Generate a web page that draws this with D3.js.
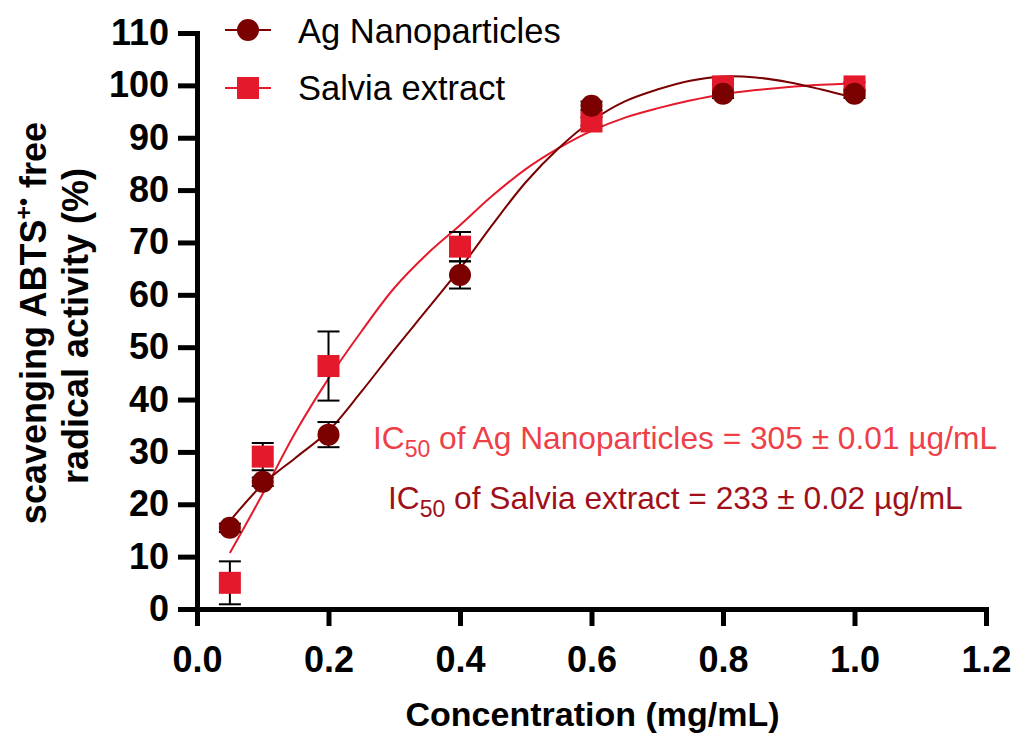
<!DOCTYPE html>
<html>
<head>
<meta charset="utf-8">
<script src="https://cdn.jsdelivr.net/npm/d3@7"></script>
<style>
  html, body { margin: 0; padding: 0; background: #fff; }
  svg { display: block; }
  text { font-family: "Liberation Sans", Arial, sans-serif; }
</style>
</head>
<body>
<svg id="chart" width="1016" height="733"></svg>
<script>
// ---- data ----
const concentrations = [0.05, 0.1, 0.2, 0.4, 0.6, 0.8, 1.0];
const agValues = [15.5, 24.3, 33.3, 63.8, 96.1, 98.4, 98.4];
const agErrors = [0.8, 0.8, 2.4, 2.6, 0.8, 0.8, 0.8];
const salviaValues = [5.0, 29.1, 46.4, 69.2, 93.1, 99.8, 99.8];
const salviaErrors = [4.1, 2.6, 6.6, 2.8, 0.8, 0.8, 0.8];

// fitted curves
const agFitX = [0.05, 0.1, 0.15, 0.2, 0.25, 0.3, 0.35, 0.4, 0.45, 0.5, 0.55, 0.6, 0.65, 0.7, 0.75, 0.8, 0.85, 0.9, 0.95, 1.0];
const agFitY = [16.8, 23.8, 28.9, 34.0, 41.5, 49.5, 57.2, 65.0, 73.5, 81.5, 88.0, 93.2, 96.9, 99.2, 100.9, 101.7, 101.5, 100.6, 99.2, 97.6];
const salviaFitX = [0.05, 0.1, 0.15, 0.2, 0.25, 0.3, 0.35, 0.4, 0.45, 0.5, 0.55, 0.6, 0.65, 0.7, 0.75, 0.8, 0.85, 0.9, 0.95, 1.0];
const salviaFitY = [10.7, 22.0, 33.8, 44.0, 53.0, 61.3, 67.8, 73.3, 79.0, 84.0, 88.0, 91.3, 93.8, 95.6, 97.1, 98.3, 99.1, 99.7, 100.1, 100.4];

const xTickValues = [0, 0.2, 0.4, 0.6, 0.8, 1.0, 1.2];
const yTickValues = [0, 10, 20, 30, 40, 50, 60, 70, 80, 90, 100, 110];

const seriesNames = ["Ag Nanoparticles", "Salvia extract"];
const xTitle = "Concentration (mg/mL)";
const icLabels = [
  {pre: "IC", sub: "50", post: " of Ag Nanoparticles = 305 \u00B1 0.01 \u00B5g/mL"},
  {pre: "IC", sub: "50", post: " of Salvia extract = 233 \u00B1 0.02 \u00B5g/mL"}
];

// ---- styles ----
const agColor = "#7B0000";
const salviaColor = "#E41A2C";
const ic1Color = "#EE4048";
const ic2Color = "#A0101A";

const svg = d3.select("#chart");
const x = d3.scaleLinear().domain([0, 1.2]).range([197, 986]);
const y = d3.scaleLinear().domain([0, 110]).range([609, 33]);

// axes
const xAxis = svg.append("g")
  .attr("transform", `translate(0,${y(0)})`)
  .call(d3.axisBottom(x).tickValues(xTickValues).tickFormat(d3.format(".1f")).tickSize(17).tickSizeOuter(0).tickPadding(20));
const yAxis = svg.append("g")
  .attr("transform", `translate(${x(0)},0)`)
  .call(d3.axisLeft(y).tickValues(yTickValues).tickFormat(d3.format("d")).tickSize(19).tickSizeOuter(0).tickPadding(9));

[xAxis, yAxis].forEach(g => {
  g.select(".domain").attr("stroke", "#000").attr("stroke-width", 5).attr("stroke-linecap", "square");
  g.selectAll(".tick line").attr("stroke", "#000").attr("stroke-width", 5);
  g.selectAll(".tick text").attr("fill", "#000")
    .style("font-family", '"Liberation Sans", Arial, sans-serif')
    .style("font-size", "36px").style("font-weight", "bold");
});

// axis titles
svg.append("text")
  .attr("x", (x(0) + x(1.2)) / 2 + 1)
  .attr("y", 726)
  .attr("text-anchor", "middle")
  .style("font-size", "34px").style("font-weight", "bold")
  .text(xTitle);

const yTitle = svg.append("text")
  .attr("transform", "translate(46,323) rotate(-90)")
  .attr("text-anchor", "middle")
  .style("font-size", "36px").style("font-weight", "bold");
yTitle.append("tspan").text("scavenging ABTS");
yTitle.append("tspan").attr("dy", -14).style("font-size", "23px").text("+\u2022");
yTitle.append("tspan").attr("dy", 14).text(" free");

svg.append("text")
  .attr("transform", "translate(88,326) rotate(-90)")
  .attr("text-anchor", "middle")
  .style("font-size", "36px").style("font-weight", "bold")
  .text("radical activity (%)");

// fit curves
const line = d3.line().x(d => x(d[0])).y(d => y(d[1])).curve(d3.curveCatmullRom.alpha(0.5));
svg.append("path")
  .datum(salviaFitX.map((v, i) => [v, salviaFitY[i]]))
  .attr("d", line).attr("fill", "none").attr("stroke", salviaColor).attr("stroke-width", 2);
svg.append("path")
  .datum(agFitX.map((v, i) => [v, agFitY[i]]))
  .attr("d", line).attr("fill", "none").attr("stroke", agColor).attr("stroke-width", 2);

// error bars
function errorBars(vals, errs) {
  const g = svg.append("g").attr("stroke", "#000").attr("stroke-width", 2);
  concentrations.forEach((c, i) => {
    const cx = x(c), top = y(vals[i] + errs[i]), bot = y(vals[i] - errs[i]);
    g.append("line").attr("x1", cx).attr("x2", cx).attr("y1", top).attr("y2", bot);
    g.append("line").attr("x1", cx - 11).attr("x2", cx + 11).attr("y1", top).attr("y2", top);
    g.append("line").attr("x1", cx - 11).attr("x2", cx + 11).attr("y1", bot).attr("y2", bot);
  });
}
errorBars(salviaValues, salviaErrors);
errorBars(agValues, agErrors);

// markers
svg.append("g").selectAll("rect")
  .data(concentrations.map((c, i) => [c, salviaValues[i]]))
  .join("rect")
  .attr("x", d => x(d[0]) - 11).attr("y", d => y(d[1]) - 11)
  .attr("width", 22).attr("height", 22).attr("fill", salviaColor);
svg.append("g").selectAll("circle")
  .data(concentrations.map((c, i) => [c, agValues[i]]))
  .join("circle")
  .attr("cx", d => x(d[0])).attr("cy", d => y(d[1])).attr("r", 11).attr("fill", agColor);

// legend
const leg = svg.append("g");
leg.append("line").attr("x1", 225).attr("x2", 271).attr("y1", 30).attr("y2", 30).attr("stroke", agColor).attr("stroke-width", 2);
leg.append("circle").attr("cx", 248).attr("cy", 30).attr("r", 11).attr("fill", agColor);
leg.append("text").attr("x", 298).attr("y", 43).style("font-size", "34.5px").text(seriesNames[0]);
leg.append("line").attr("x1", 225).attr("x2", 271).attr("y1", 88).attr("y2", 88).attr("stroke", salviaColor).attr("stroke-width", 2);
leg.append("rect").attr("x", 237).attr("y", 77).attr("width", 22).attr("height", 22).attr("fill", salviaColor);
leg.append("text").attr("x", 298).attr("y", 100).style("font-size", "34.5px").text(seriesNames[1]);

// IC50 annotations
const icPos = [[373, 449, ic1Color], [388, 509, ic2Color]];
icLabels.forEach((lab, i) => {
  const t = svg.append("text").attr("x", icPos[i][0]).attr("y", icPos[i][1])
    .attr("fill", icPos[i][2]).style("font-size", "31.7px");
  t.append("tspan").text(lab.pre);
  t.append("tspan").attr("dy", 8).style("font-size", "23px").text(lab.sub);
  t.append("tspan").attr("dy", -8).text(lab.post);
});
</script>
</body>
</html>
